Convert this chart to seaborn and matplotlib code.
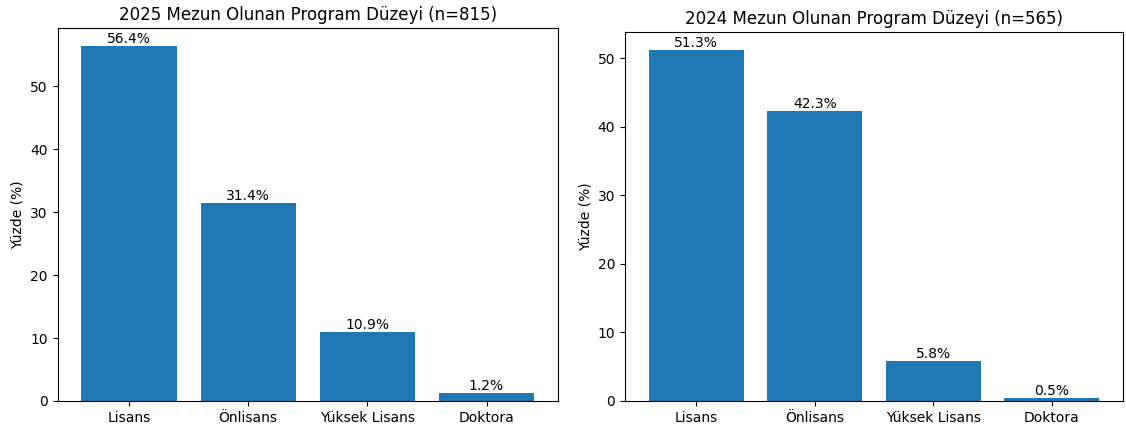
import pandas as pd
import seaborn as sns
import matplotlib.pyplot as plt

levels = ['Lisans', 'Önlisans', 'Yüksek Lisans', 'Doktora']
pct_2025 = [56.4, 31.4, 10.9, 1.2]
pct_2024 = [51.3, 42.3, 5.8, 0.5]
n_2025 = 815
n_2024 = 565


def bar_panel(ax, values, title):
    df = pd.DataFrame({'level': levels, 'pct': values})
    sns.barplot(data=df, x='level', y='pct', color='#1f77b4', saturation=1,
                width=0.8, ax=ax)
    ax.bar_label(ax.containers[0], labels=[f'{v:.1f}%' for v in values],
                 fontsize=10)
    ax.set_title(title, fontsize=12)
    ax.set_xlabel('')
    ax.set_ylabel('Yüzde (%)')
    ax.set_xlim(-0.6, len(levels) - 0.4)
    ax.margins(y=0.05)


W, H = 1126, 432
fig = plt.figure(figsize=(W / 100, H / 100), dpi=100)
ax_left = fig.add_axes([57.5 / W, 31 / H, 500.5 / W, 373 / H])
ax_right = fig.add_axes([625 / W, 31 / H, 498 / W, 369 / H])
bar_panel(ax_left, pct_2025, f'2025 Mezun Olunan Program Düzeyi (n={n_2025})')
bar_panel(ax_right, pct_2024, f'2024 Mezun Olunan Program Düzeyi (n={n_2024})')
fig.savefig('out.png')
